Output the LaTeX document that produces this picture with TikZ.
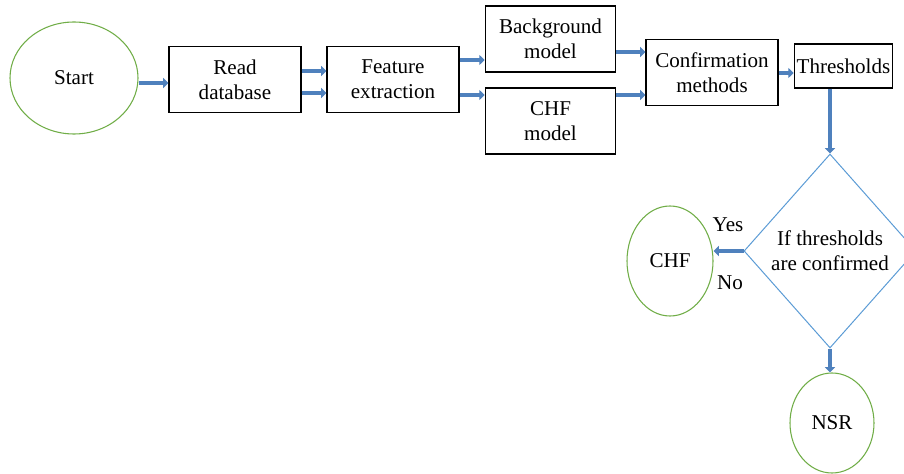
\documentclass[tikz,border=0pt]{standalone}
\usepackage{fontspec}
\setmainfont{Liberation Serif}
\usetikzlibrary{shapes.geometric,arrows.meta}
\definecolor{arrowblue}{HTML}{4F81BD}
\definecolor{okgreen}{HTML}{70AD47}
\definecolor{lineblue}{HTML}{5B9BD5}
\tikzset{
  box/.style={draw=black, line width=0.8pt, fill=white, align=center, inner sep=0pt},
  term/.style={ellipse, draw=okgreen, line width=0.8pt, align=center, inner sep=0pt},
  decision/.style={diamond, draw=lineblue, line width=0.75pt, align=center, inner sep=0pt},
  blk/.style={draw=arrowblue, line width=3.2pt, -{Triangle[length=4pt,width=7.5pt]}}
}
\begin{document}
\begin{tikzpicture}[x=0.75pt,y=-0.75pt,font=\fontsize{15.8}{18.8}\selectfont]
\useasboundingbox (0,0) rectangle (904,474);
% top row
\node[term, minimum width=96pt, minimum height=84pt] (start) at (74,78) {Start};
\node[box, minimum width=99pt, minimum height=50pt] (read) at (235,79.5) {Read\\database};
\node[box, minimum width=99pt, minimum height=50pt] (feat) at (393,79.5) {Feature\\extraction};
\node[box, minimum width=98pt, minimum height=49.5pt] (bg) at (550.5,39) {Background\\model};
\node[box, minimum width=98pt, minimum height=49.5pt] (chfm) at (550.5,121) {CHF\\model};
\node[box, minimum width=99pt, minimum height=49pt] (conf) at (712,72.5) {Confirmation\\methods};
\node[box, minimum width=74pt, minimum height=33pt] (thr) at (843.5,66) {Thresholds};
% decision and outcomes
\node[decision, minimum width=129pt, minimum height=145.5pt] (dec) at (830,251) {If thresholds\\are confirmed};
\node[term, minimum width=64.5pt, minimum height=82.5pt] (chf) at (670,261) {CHF};
\node[term, minimum width=63pt, minimum height=75pt] (nsr) at (832,423) {NSR};
\node (yes) at (728,225) {Yes};
\node (no) at (730,283) {No};
% connectors
\draw[blk] (start.east |- 0,83) -- (read.west |- 0,83);
\draw[blk] (read.east |- 0,71) -- (feat.west |- 0,71);
\draw[blk] (read.east |- 0,93) -- (feat.west |- 0,93);
\draw[blk] (feat.east |- 0,60) -- (bg.west |- 0,60);
\draw[blk] (feat.east |- 0,95) -- (chfm.west |- 0,95);
\draw[blk] (bg.east |- 0,52) -- (conf.west |- 0,52);
\draw[blk] (chfm.east |- 0,95) -- (conf.west |- 0,95);
\draw[blk] (conf.east |- 0,73) -- (thr.west |- 0,73);
\draw[blk] (thr.south -| dec.north) -- (dec.north);
\draw[blk] (dec.west) -- (dec.west -| chf.east);
\draw[blk] (dec.south) -- (dec.south |- nsr.north);
\end{tikzpicture}
\end{document}
